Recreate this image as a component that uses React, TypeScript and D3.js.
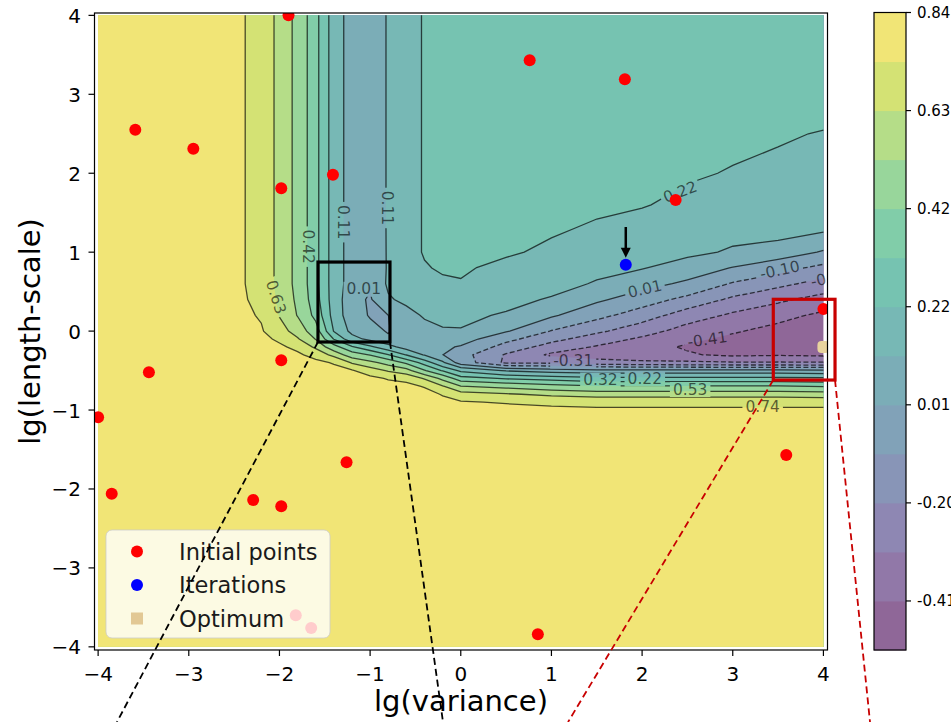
import React from 'react';
import * as d3 from 'd3';

const W = 951;
const H = 722;
const M = { left: 94.5, right: 827.5, top: 13, bottom: 650 };

// contour levels (colorbar boundaries / inline labels)
const levels = [-0.52, -0.41, -0.31, -0.2, -0.1, 0.01, 0.11, 0.22, 0.32, 0.42, 0.53, 0.63, 0.74, 0.84];

// sample grid: lg(variance) columns, lg(length-scale) rows from top to bottom
const gridX = [-4, -3, -2.6, -2.4, -2.2, -2.0, -1.8, -1.6, -1.4, -1.2, -1.0, -0.8, -0.6, -0.4, -0.2, 0, 0.5, 1, 1.5, 2, 2.5, 3, 3.5, 4];
const gridY = [4, 3, 2.5, 2, 1.6, 1.3, 1.0, 0.8, 0.6, 0.4, 0.2, 0, -0.1, -0.2, -0.3, -0.4, -0.5, -0.6, -0.7, -0.8, -0.9, -1.0, -1.2, -4];

// objective, one array per gridX column (rows follow gridY)
const cols = [
  [.80, .80, .80, .80, .80, .80, .80, .80, .80, .80, .80, .80, .80, .80, .80, .80, .80, .80, .80, .80, .80, .80, .80, .80],
  [.80, .80, .80, .80, .80, .80, .80, .80, .80, .80, .80, .80, .80, .80, .80, .80, .80, .80, .80, .80, .80, .80, .80, .80],
  [.78, .78, .78, .78, .78, .78, .78, .78, .78, .78, .78, .79, .80, .80, .80, .80, .80, .80, .80, .80, .80, .80, .80, .80],
  [.745, .745, .745, .745, .745, .745, .745, .745, .745, .75, .76, .78, .79, .80, .80, .80, .80, .80, .80, .80, .80, .80, .80, .80],
  [.70, .70, .70, .70, .70, .70, .70, .70, .70, .71, .73, .75, .77, .79, .80, .80, .80, .80, .80, .80, .80, .80, .80, .80],
  [.60, .60, .60, .60, .60, .60, .60, .60, .60, .61, .625, .67, .72, .76, .78, .80, .80, .80, .80, .80, .80, .80, .80, .80],
  [.50, .50, .50, .50, .50, .50, .50, .50, .50, .51, .525, .59, .64, .71, .76, .79, .80, .80, .80, .80, .80, .80, .80, .80],
  [.35, .35, .35, .35, .35, .35, .35, .35, .35, .36, .39, .47, .525, .61, .70, .77, .79, .80, .80, .80, .80, .80, .80, .80],
  [.17, .17, .17, .17, .17, .17, .17, .17, .17, .17, .18, .215, .315, .46, .60, .73, .78, .80, .80, .80, .80, .80, .80, .80],
  [.06, .06, .06, .06, .06, .06, .06, .06, .06, .04, .04, .08, .15, .33, .47, .62, .75, .79, .80, .80, .80, .80, .80, .80],
  [.04, .04, .04, .04, .04, .04, .035, .03, .02, .00, .005, .03, .08, .24, .415, .56, .68, .77, .80, .80, .80, .80, .80, .80],
  [.12, .12, .12, .12, .12, .12, .12, .12, .125, .10, .009, .005, .02, .15, .325, .49, .62, .73, .79, .80, .80, .80, .80, .80],
  [.17, .17, .17, .17, .17, .17, .17, .165, .16, .13, .08, .05, .04, .06, .215, .40, .57, .70, .78, .80, .80, .80, .80, .80],
  [.23, .23, .23, .23, .23, .23, .23, .21, .18, .15, .12, .08, .05, .03, .10, .28, .43, .62, .73, .79, .80, .80, .80, .80],
  [.25, .25, .25, .25, .25, .25, .24, .235, .20, .15, .125, .105, .07, .03, .012, .13, .31, .50, .64, .73, .78, .80, .80, .80],
  [.27, .27, .27, .265, .26, .255, .245, .23, .215, .17, .13, .105, .06, .00, -.06, -.04, .20, .36, .535, .67, .75, .79, .80, .80],
  [.28, .28, .275, .27, .26, .25, .23, .20, .17, .14, .10, .02, -.07, -.14, -.21, -.22, .10, .31, .50, .64, .73, .78, .80, .80],
  [.28, .275, .27, .26, .245, .23, .205, .18, .15, .10, .025, -.105, -.17, -.24, -.33, -.22, .06, .28, .46, .61, .71, .77, .80, .80],
  [.28, .27, .26, .25, .235, .21, .17, .14, .10, .03, -.07, -.18, -.25, -.32, -.37, -.26, .04, .25, .43, .59, .70, .76, .80, .80],
  [.28, .27, .255, .24, .225, .19, .15, .115, .05, -.05, -.15, -.26, -.33, -.38, -.40, -.28, .04, .25, .43, .59, .70, .76, .80, .80],
  [.28, .265, .25, .23, .20, .17, .13, .07, -.01, -.13, -.25, -.36, -.39, -.42, -.40, -.29, .04, .25, .43, .59, .70, .76, .80, .80],
  [.28, .26, .24, .215, .18, .14, .10, .005, -.11, -.22, -.33, -.40, -.43, -.45, -.43, -.30, .04, .25, .43, .59, .70, .76, .80, .80],
  [.29, .26, .23, .20, .18, .15, .07, -.06, -.17, -.29, -.38, -.44, -.46, -.45, -.42, -.30, .04, .25, .43, .59, .70, .76, .80, .80],
  [.30, .27, .215, .18, .155, .13, .00, -.13, -.24, -.35, -.43, -.47, -.47, -.46, -.43, -.30, .03, .24, .415, .58, .70, .76, .80, .80],
];

const initialPoints = [
  [-1.9, 4.0], [0.76, 3.43], [1.81, 3.19], [-3.59, 2.55], [-2.95, 2.31], [-1.41, 1.98],
  [-1.98, 1.81], [2.37, 1.66], [4.0, 0.28], [-1.98, -0.37], [-3.44, -0.52], [-4.0, -1.09],
  [-1.26, -1.66], [3.59, -1.57], [-3.85, -2.06], [-2.29, -2.14], [-1.98, -2.22], [0.85, -3.84],
  [-1.82, -3.6], [-1.65, -3.76],
];
const iterations = [[1.82, 0.84]];
const optimum = [[4.0, -0.2]];
const arrowFrom = [1.82, 1.32];
const arrowTo = [1.82, 0.93];

const contourLabels = [
  { text: '0.63', x: -2.04, y: 0.43, angle: 72 },
  { text: '0.42', x: -1.69, y: 1.07, angle: 90 },
  { text: '0.11', x: -1.3, y: 1.38, angle: 90 },
  { text: '0.11', x: -0.81, y: 1.56, angle: 90 },
  { text: '0.01', x: -1.07, y: 0.53, angle: 0 },
  { text: '0.22', x: 2.42, y: 1.76, angle: -21 },
  { text: '0.01', x: 2.03, y: 0.53, angle: -13 },
  { text: '-0.10', x: 3.52, y: 0.77, angle: -12 },
  { text: '-0.20', x: 4.08, y: 0.67, angle: -12 },
  { text: '-0.41', x: 2.72, y: -0.11, angle: -8 },
  { text: '-0.31', x: 1.24, y: -0.38, angle: 0 },
  { text: '0.32', x: 1.54, y: -0.62, angle: 0 },
  { text: '0.22', x: 2.03, y: -0.61, angle: 0 },
  { text: '0.53', x: 2.53, y: -0.74, angle: 0 },
  { text: '0.74', x: 3.33, y: -0.96, angle: 0 },
];

// zoom boxes and their connector lines (data units)
const blackBox = { x0: -1.575, x1: -0.781, y0: -0.138, y1: 0.875 };
const blackLinks = [[[-1.575, -0.138], [-3.792, -4.953]], [[-0.781, -0.138], [-0.196, -4.953]]];
const redBox = { x0: 3.447, x1: 4.128, y0: -0.62, y1: 0.403 };
const redLinks = [[[3.447, -0.62], [1.183, -4.953]], [[4.128, -0.62], [4.514, -4.953]]];

const ticks = [-4, -3, -2, -1, 0, 1, 2, 3, 4];
const cbTicks = [13, 11, 9, 7, 5, 3, 1];

const FONT = 'DejaVu Sans, sans-serif';
const LABEL_SIZE = 15.5;

// viridis at alpha 0.6 over white, the light end a bit dimmed like the source image
const bandColor = i => {
  const t = i / (levels.length - 2);
  const c = d3.rgb(d3.interpolateViridis(t));
  const k = 1 - 0.05 * t;
  return d3.rgb((c.r * 0.6 + 102) * k, (c.g * 0.6 + 102) * k, (c.b * 0.6 + 102) * k).formatHex();
};

const x = d3.scaleLinear().domain([-4.04, 4.045]).range([M.left, M.right]);
const y = d3.scaleLinear().domain([-4.04, 4.03]).range([M.bottom, M.top]);

const nx = gridX.length;
const ny = gridY.length;
const values = [];
for (let j = 0; j < ny; j++) for (let i = 0; i < nx; i++) values.push(cols[i][j]);

const contours = d3.contours().size([nx, ny]).thresholds(levels.slice(1, -1))(values);
const colScale = d3.scaleLinear().domain(d3.range(nx)).range(gridX).clamp(true);
const rowScale = d3.scaleLinear().domain(d3.range(ny)).range(gridY).clamp(true);
const toPx = p => [x(colScale(p[0] - 0.5)), y(rowScale(p[1] - 0.5))];
const pts = arr => arr.map(p => toPx(p).map(v => v.toFixed(2)).join(',')).join('L');

const fillPath = c => c.coordinates.map(poly => poly.map(r => 'M' + pts(r) + 'Z').join('')).join('');

// contour lines: polygon rings without the pieces that touch the grid border
const linePath = c => {
  const out = [];
  const onBorder = p => p[0] === 0 || p[0] === nx || p[1] === 0 || p[1] === ny;
  c.coordinates.forEach(poly => poly.forEach(ring => {
    const r = ring.slice();
    const f = r[0], l = r[r.length - 1];
    if (f[0] !== l[0] || f[1] !== l[1]) r.push(f);
    let cur = [];
    for (let k = 1; k < r.length; k++) {
      if (onBorder(r[k - 1]) || onBorder(r[k])) {
        if (cur.length > 1) out.push(cur);
        cur = [];
        continue;
      }
      if (!cur.length) cur.push(r[k - 1]);
      cur.push(r[k]);
    }
    if (cur.length > 1) out.push(cur);
  }));
  return out.map(line => 'M' + pts(line)).join('');
};

const textWidth = (s, size) => d3.sum(s.split(''), ch => (ch === '.' ? 0.318 : ch === '-' ? 0.361 : 0.636)) * size;

const legendItems = [
  { label: 'Initial points', color: '#ff0000', shape: 'circle' },
  { label: 'Iterations', color: '#0000ff', shape: 'circle' },
  { label: 'Optimum', color: '#e2c894', shape: 'square' },
];

const cbY = d3.scaleLinear().domain([0, levels.length - 1]).range([650, 12.5]);

export default function App() {
  const fmt = d3.format('d');
  return (
    <svg width={W} height={H} style={{ position: 'absolute', left: 0, top: 0 }} fontFamily={FONT}>
      <defs>
        <clipPath id="plot">
          <rect x={M.left} y={M.top} width={M.right - M.left} height={M.bottom - M.top} />
        </clipPath>
        <mask id="gaps" maskUnits="userSpaceOnUse" x={0} y={0} width={W} height={H}>
          <rect x={0} y={0} width={W} height={H} fill="#fff" />
          {contourLabels.map((d, i) => {
            const w = textWidth(d.text, LABEL_SIZE) + 6;
            return (
              <rect key={i} x={-w / 2} y={-7.5} width={w} height={15} fill="#000"
                transform={`translate(${x(d.x)},${y(d.y)}) rotate(${d.angle})`} />
            );
          })}
        </mask>
      </defs>

      <rect width={W} height={H} fill="#fff" />

      <g clipPath="url(#plot)">
        <rect x={x(-4)} y={y(4)} width={x(4) - x(-4)} height={y(-4) - y(4)} fill={bandColor(0)} />
        {contours.map((c, i) => (
          <path key={i} d={fillPath(c)} fill={bandColor(i + 1)} fillRule="evenodd" />
        ))}
        <g mask="url(#gaps)">
          {contours.map((c, i) => (
            <path key={i} d={linePath(c)} fill="none" stroke="#000" strokeOpacity={0.68}
              strokeWidth={1.3} strokeDasharray={c.value < 0 ? '5 2.5' : null} />
          ))}
        </g>
        {contourLabels.map((d, i) => (
          <text key={i} transform={`translate(${x(d.x)},${y(d.y)}) rotate(${d.angle})`}
            textAnchor="middle" dominantBaseline="central" fontSize={LABEL_SIZE} fill="#000" fillOpacity={0.6}>
            {d.text}
          </text>
        ))}
        {initialPoints.map((p, i) => (
          <circle key={i} cx={x(p[0])} cy={y(p[1])} r={6} fill="#ff0000" />
        ))}
        {iterations.map((p, i) => (
          <circle key={i} cx={x(p[0])} cy={y(p[1])} r={6} fill="#0000ff" />
        ))}
        {optimum.map((p, i) => (
          <rect key={i} x={x(p[0]) - 6} y={y(p[1]) - 6} width={12} height={12} rx={4} fill="#e8d39e" />
        ))}
        <line x1={x(arrowFrom[0])} y1={y(arrowFrom[1])} x2={x(arrowTo[0])} y2={y(arrowTo[1]) - 8}
          stroke="#000" strokeWidth={2.5} />
        <path d={`M${x(arrowTo[0]) - 5},${y(arrowTo[1]) - 10}L${x(arrowTo[0]) + 5},${y(arrowTo[1]) - 10}L${x(arrowTo[0])},${y(arrowTo[1])}Z`}
          fill="#000" />
      </g>

      {/* axes */}
      <rect x={M.left} y={M.top} width={M.right - M.left} height={M.bottom - M.top} fill="none" stroke="#000" strokeWidth={1.2} />
      {ticks.map(t => (
        <g key={'x' + t}>
          <line x1={x(t)} x2={x(t)} y1={M.bottom} y2={M.bottom + 6} stroke="#000" strokeWidth={1.2} />
          <text x={x(t)} y={681} textAnchor="middle" fontSize={20} fill="#000">{fmt(t)}</text>
        </g>
      ))}
      {ticks.map(t => (
        <g key={'y' + t}>
          <line x1={M.left - 6} x2={M.left} y1={y(t)} y2={y(t)} stroke="#000" strokeWidth={1.2} />
          <text x={81} y={y(t) + 7.5} textAnchor="end" fontSize={20} fill="#000">{fmt(t)}</text>
        </g>
      ))}
      <text x={(M.left + M.right) / 2} y={711} textAnchor="middle" fontSize={29} fill="#000">lg(variance)</text>
      <text transform={`translate(40,${(M.top + M.bottom) / 2}) rotate(-90)`} textAnchor="middle" fontSize={29} fill="#000">
        lg(length-scale)
      </text>

      {/* legend */}
      <rect x={106} y={530} width={224} height={108} rx={6} fill="#fff" fillOpacity={0.8} stroke="#cccccc" strokeOpacity={0.8} />
      {legendItems.map((d, i) => {
        const cy = 551.5 + i * 33.5;
        return (
          <g key={d.label}>
            {d.shape === 'circle'
              ? <circle cx={137} cy={cy} r={6} fill={d.color} />
              : <rect x={131} y={cy - 6} width={12} height={12} fill={d.color} />}
            <text x={179} y={cy + 8} fontSize={22.5} fill="#1a1a1a">{d.label}</text>
          </g>
        );
      })}

      {/* colorbar */}
      {d3.range(levels.length - 1).map(i => (
        <rect key={i} x={874} y={cbY(i + 1)} width={32} height={cbY(i) - cbY(i + 1) + 0.5} fill={bandColor(i)} />
      ))}
      <rect x={874} y={cbY(levels.length - 1)} width={32} height={cbY(0) - cbY(levels.length - 1)} fill="none" stroke="#000" strokeWidth={1.2} />
      {cbTicks.map(k => (
        <g key={k}>
          <line x1={906} x2={911} y1={cbY(k)} y2={cbY(k)} stroke="#000" strokeWidth={1.2} />
          <text x={917} y={cbY(k)} dominantBaseline="central" fontSize={15} fill="#000">{levels[k].toFixed(2)}</text>
        </g>
      ))}

      {/* zoom boxes */}
      {blackLinks.map((l, i) => (
        <line key={i} x1={x(l[0][0])} y1={y(l[0][1])} x2={x(l[1][0])} y2={y(l[1][1])}
          stroke="#000" strokeWidth={1.8} strokeDasharray="7 4" />
      ))}
      <rect x={x(blackBox.x0)} y={y(blackBox.y1)} width={x(blackBox.x1) - x(blackBox.x0)} height={y(blackBox.y0) - y(blackBox.y1)}
        fill="none" stroke="#000" strokeWidth={3.2} />
      {redLinks.map((l, i) => (
        <line key={i} x1={x(l[0][0])} y1={y(l[0][1])} x2={x(l[1][0])} y2={y(l[1][1])}
          stroke="#c80000" strokeWidth={1.8} strokeDasharray="7 4" />
      ))}
      <rect x={x(redBox.x0)} y={y(redBox.y1)} width={x(redBox.x1) - x(redBox.x0)} height={y(redBox.y0) - y(redBox.y1)}
        fill="none" stroke="#c80000" strokeWidth={3.2} />
    </svg>
  );
}
